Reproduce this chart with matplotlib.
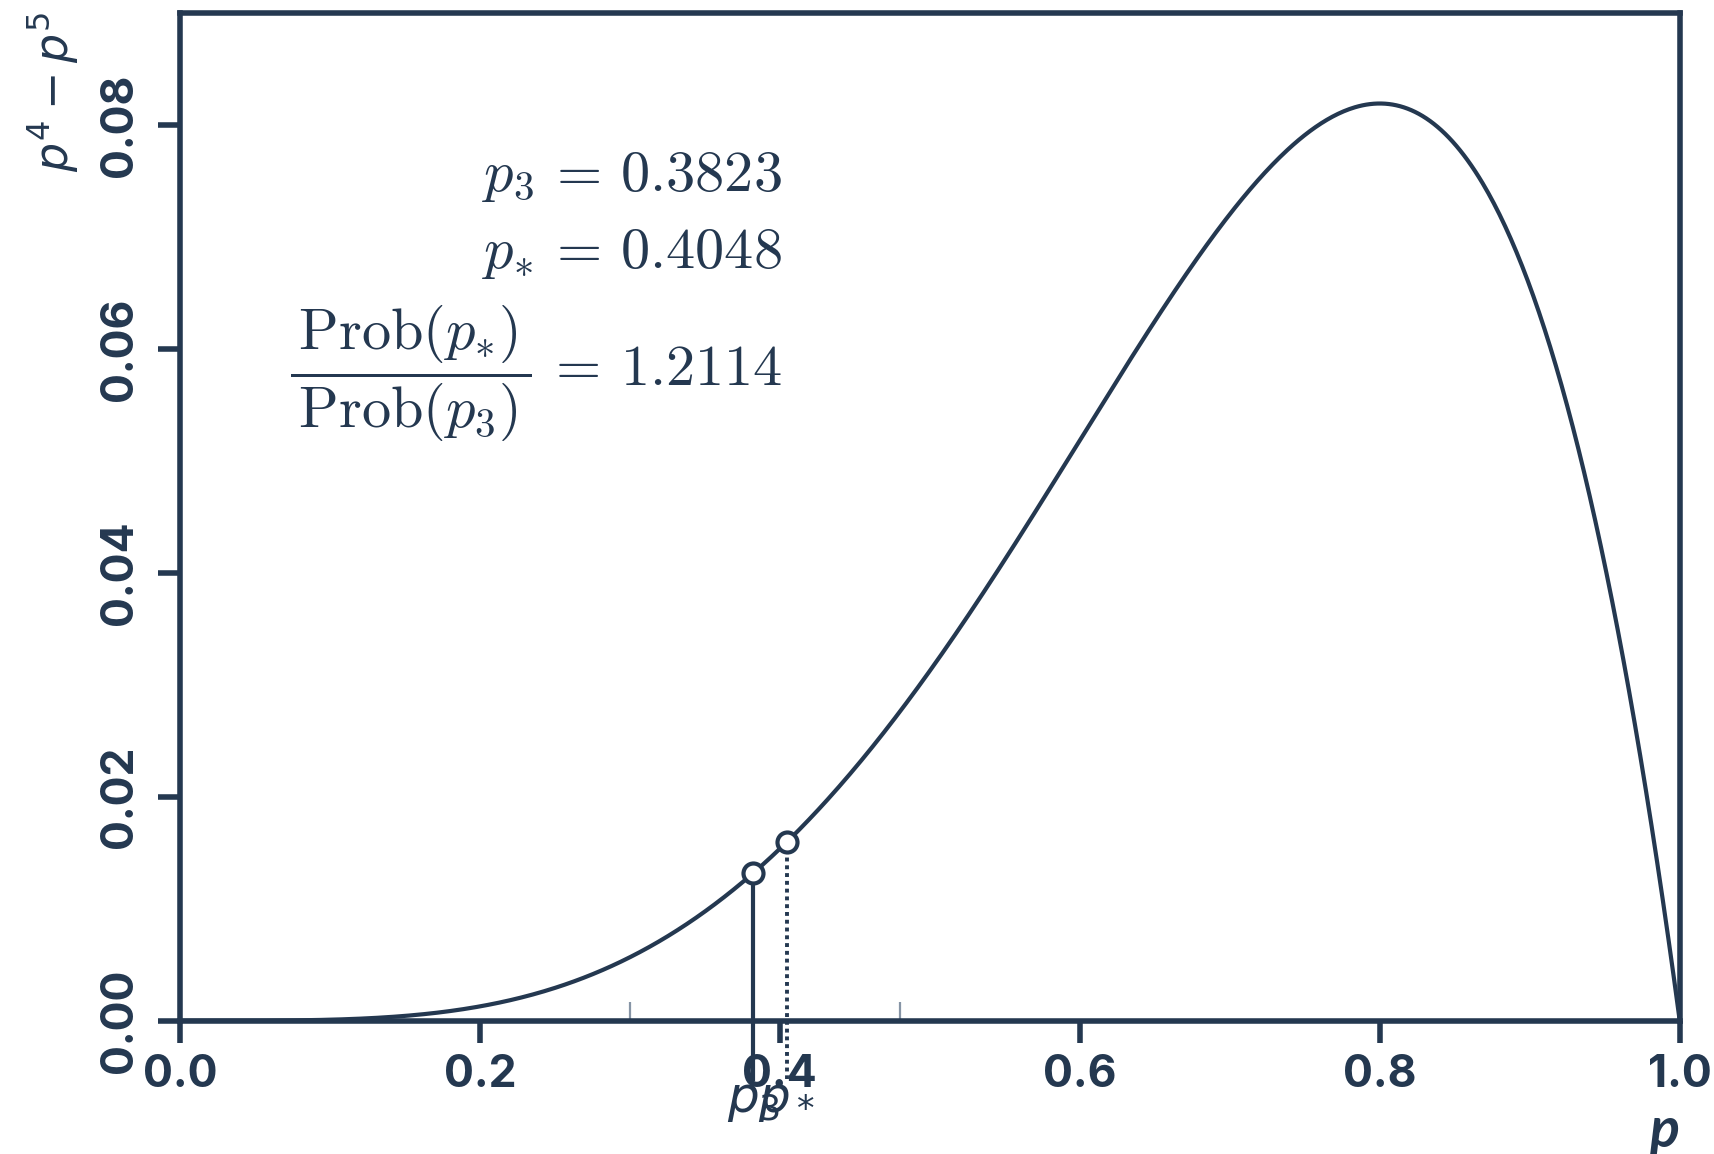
import numpy as np
import matplotlib
matplotlib.use("Agg")
import matplotlib.pyplot as plt
from matplotlib.transforms import blended_transform_factory

# Values shown on the chart
p3 = 0.3823
p_star = 0.4048
ratio_label = "1.2114"
x_ticks = [0.0, 0.2, 0.4, 0.6, 0.8, 1.0]
y_ticks = [0.00, 0.02, 0.04, 0.06, 0.08]
minor_x = [0.3, 0.48]

NAVY = "#243850"
SLATE = "#8795a6"

plt.rcParams["mathtext.fontset"] = "dejavusans"
plt.rcParams["font.family"] = ["Inter", "DejaVu Sans"]

def f(p):
    return p ** 4 - p ** 5

p = np.linspace(0.0, 1.0, 800)

fig = plt.figure(figsize=(8.57, 5.77), dpi=200)
ax = fig.add_axes([0.105, 0.1155, 0.875, 0.8732])

ax.plot(p, f(p), color=NAVY, lw=1.5, solid_capstyle="round", zorder=3)

# Markers and drop lines for p3 and p*
ax.plot([p3, p3], [f(p3), -0.0052], color=NAVY, lw=1.5, clip_on=False, zorder=2)
ax.plot([p_star, p_star], [f(p_star), -0.0052], color=NAVY, lw=1.4,
        ls=(0, (1, 1.0)), clip_on=False, zorder=2)
ax.plot([p3, p_star], [f(p3), f(p_star)], ls="none", marker="o", ms=7.2,
        mfc="white", mec=NAVY, mew=1.5, zorder=4, clip_on=False)

ax.set_xlim(0, 1.0)
ax.set_ylim(0, 0.09)

for side in ["left", "right", "top", "bottom"]:
    ax.spines[side].set_color(NAVY)
    ax.spines[side].set_linewidth(2.0)

ax.set_xticks(x_ticks)
ax.set_xticklabels([f"{v:.1f}" for v in x_ticks])
ax.set_yticks(y_ticks)
ax.set_yticklabels([f"{v:.2f}" for v in y_ticks], rotation=90, va="center")
ax.set_xticks(minor_x, minor=True)

ax.tick_params(which="major", direction="out", length=8, width=2.0,
               color=NAVY, labelcolor=NAVY, labelsize=16, pad=4)
ax.tick_params(which="major", axis="y", pad=6)
ax.tick_params(which="minor", axis="x", direction="in", length=7, width=0.8,
               color=SLATE)
for lab in ax.get_xticklabels() + ax.get_yticklabels():
    lab.set_fontweight("bold")

# Labels for the two marked points below the axis
trans = blended_transform_factory(ax.transData, ax.transAxes)
ax.text(p3, -0.0795, r"$p_3$", transform=trans, ha="center", va="center",
        fontsize=18, color=NAVY)
ax.text(p_star, -0.0795, r"$p_*$", transform=trans, ha="center", va="center",
        fontsize=18, color=NAVY)

# Annotation block
kw = dict(ha="right", va="baseline", fontsize=21, color=NAVY, math_fontfamily="cm")
fig.text(0.4562, 0.8345, r"$p_3\, =\, 0.3823$", **kw)
fig.text(0.4562, 0.7678, r"$p_{*}\, =\, 0.4048$", **kw)
fig.text(0.4562, 0.6655,
         r"$\dfrac{\,\mathrm{Prob}(p_{*})\,}{\,\mathrm{Prob}(p_3)\,}\, =\, "
         + ratio_label + "$",
         **kw)

# Axis titles
fig.text(0.031, 0.9895, r"$p^4 - p^5$", rotation=90, ha="center", va="top",
         fontsize=16.5, color=NAVY)
fig.text(0.9708, 0.020, "p", ha="center", va="center", fontsize=20,
         fontweight="bold", fontstyle="italic", color=NAVY,
         family=["Lato", "DejaVu Sans"])

fig.savefig("out.png", dpi=200)
